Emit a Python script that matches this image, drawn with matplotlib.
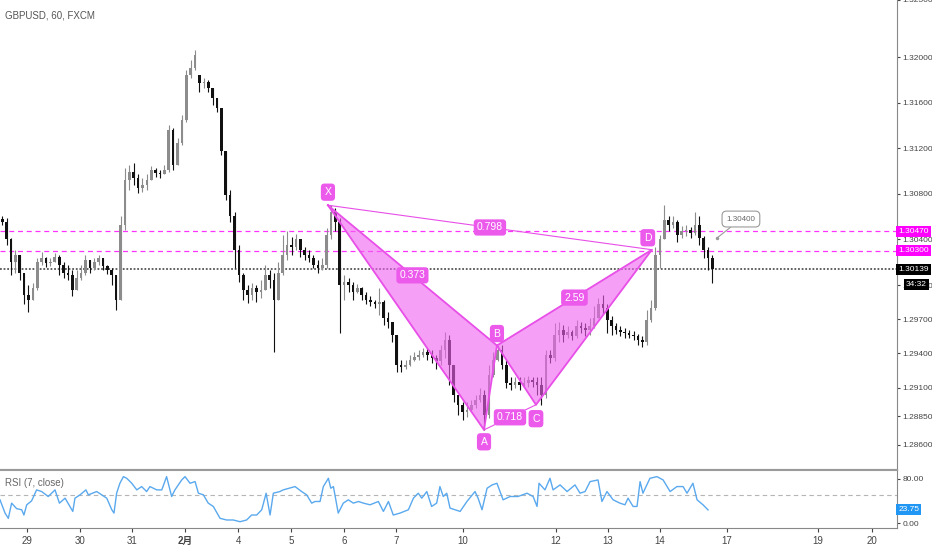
import matplotlib
matplotlib.use('Agg')
import matplotlib.pyplot as plt
from matplotlib.patches import Polygon
from matplotlib.ticker import FormatStrFormatter

plt.rcParams['font.family'] = ['Liberation Sans', 'DejaVu Sans', 'Noto Sans CJK SC']

# ---------------- data (2-hour candles, GBPUSD) ----------------
opens = [1.3058, 1.3055, 1.3040, 1.3020, 1.3026, 1.3011, 1.2991, 1.2987, 1.2997, 1.3020,
         1.3024, 1.3019, 1.3020, 1.3025, 1.3018, 1.3011, 1.3009, 1.2996, 1.3006, 1.3011,
         1.3022, 1.3015, 1.3020, 1.3024, 1.3017, 1.3013, 1.3009, 1.2987, 1.3053, 1.3092,
         1.3099, 1.3094, 1.3085, 1.3088, 1.3092, 1.3101, 1.3098, 1.3097, 1.3101, 1.3136,
         1.3105, 1.3125, 1.3145, 1.3184, 1.3190, 1.3184, 1.3177, 1.3178, 1.3173, 1.3164,
         1.3155, 1.3118, 1.3079, 1.3061, 1.3031, 1.3009, 1.2996, 1.2991, 1.2997, 1.2994,
         1.2996, 1.3009, 1.3004, 1.2987, 1.3011, 1.3026, 1.3035, 1.3033, 1.3040, 1.3031,
         1.3026, 1.3024, 1.3018, 1.3015, 1.3018, 1.3044, 1.3064, 1.3055, 1.3000, 1.3003,
         1.3000, 1.2994, 1.2997, 1.2991, 1.2987, 1.2985, 1.2983, 1.2985, 1.2971, 1.2968,
         1.2956, 1.2930, 1.2928, 1.2930, 1.2934, 1.2937, 1.2939, 1.2941, 1.2939, 1.2936,
         1.2933, 1.2943, 1.2952, 1.2930, 1.2904, 1.2895, 1.2889, 1.2890, 1.2895, 1.2899,
         1.2904, 1.2886, 1.2921, 1.2934, 1.2943, 1.2930, 1.2914, 1.2912, 1.2915, 1.2912,
         1.2914, 1.2917, 1.2915, 1.2912, 1.2904, 1.2939, 1.2936, 1.2956, 1.2961, 1.2956,
         1.2959, 1.2955, 1.2964, 1.2962, 1.2961, 1.2964, 1.2971, 1.2983, 1.2980, 1.2969,
         1.2964, 1.2961, 1.2959, 1.2958, 1.2956, 1.2955, 1.2952, 1.2950, 1.2969, 1.2980,
         1.3026, 1.3040, 1.3057, 1.3053, 1.3055, 1.3044, 1.3047, 1.3048, 1.3046, 1.3053,
         1.3041, 1.3031, 1.3024]

highs = [1.3061, 1.3059, 1.3041, 1.3031, 1.3018, 1.3004, 1.3000, 1.3002, 1.3024, 1.3029,
         1.3025, 1.3024, 1.3028, 1.3026, 1.3020, 1.3018, 1.3013, 1.3013, 1.3018, 1.3026,
         1.3020, 1.3024, 1.3026, 1.3022, 1.3018, 1.3015, 1.3006, 1.3061, 1.3103, 1.3105,
         1.3107, 1.3097, 1.3094, 1.3097, 1.3104, 1.3103, 1.3101, 1.3105, 1.3140, 1.3138,
         1.3129, 1.3149, 1.3189, 1.3197, 1.3206, 1.3184, 1.3182, 1.3180, 1.3173, 1.3162,
         1.3155, 1.3118, 1.3083, 1.3064, 1.3035, 1.3011, 1.3000, 1.3002, 1.3000, 1.3004,
         1.3018, 1.3013, 1.3011, 1.3020, 1.3044, 1.3047, 1.3042, 1.3045, 1.3040, 1.3033,
         1.3031, 1.3026, 1.3022, 1.3024, 1.3050, 1.3070, 1.3068, 1.3059, 1.3009, 1.3006,
         1.3003, 1.3001, 1.2998, 1.2994, 1.2990, 1.2987, 1.2997, 1.2987, 1.2976, 1.2968,
         1.2956, 1.2934, 1.2934, 1.2939, 1.2941, 1.2943, 1.2945, 1.2945, 1.2943, 1.2939,
         1.2947, 1.2959, 1.2956, 1.2930, 1.2904, 1.2897, 1.2897, 1.2899, 1.2904, 1.2910,
         1.2908, 1.2930, 1.2941, 1.2947, 1.2947, 1.2934, 1.2919, 1.2919, 1.2919, 1.2919,
         1.2920, 1.2919, 1.2919, 1.2919, 1.2943, 1.2943, 1.2967, 1.2968, 1.2965, 1.2964,
         1.2961, 1.2969, 1.2968, 1.2967, 1.2971, 1.2982, 1.2989, 1.2991, 1.2983, 1.2973,
         1.2967, 1.2964, 1.2962, 1.2961, 1.2960, 1.2957, 1.2955, 1.2978, 1.2987, 1.3033,
         1.3044, 1.3070, 1.3061, 1.3061, 1.3057, 1.3052, 1.3053, 1.3051, 1.3064, 1.3061,
         1.3043, 1.3033, 1.3026]

lows = [1.3053, 1.3035, 1.3009, 1.3011, 1.3004, 1.2983, 1.2976, 1.2987, 1.2996, 1.3018,
        1.3016, 1.3017, 1.3020, 1.3009, 1.3006, 1.3004, 1.2990, 1.2996, 1.3004, 1.3009,
        1.3011, 1.3013, 1.3018, 1.3013, 1.3010, 1.3000, 1.2978, 1.2987, 1.3048, 1.3083,
        1.3088, 1.3081, 1.3082, 1.3083, 1.3092, 1.3095, 1.3094, 1.3097, 1.3099, 1.3101,
        1.3105, 1.3123, 1.3143, 1.3182, 1.3189, 1.3169, 1.3173, 1.3169, 1.3158, 1.3152,
        1.3114, 1.3075, 1.3055, 1.3015, 1.3003, 1.2987, 1.2984, 1.2987, 1.2985, 1.2989,
        1.3002, 1.2997, 1.2941, 1.2987, 1.3009, 1.3022, 1.3026, 1.3031, 1.3025, 1.3022,
        1.3020, 1.3015, 1.3011, 1.3013, 1.3015, 1.3040, 1.3047, 1.2958, 1.2987, 1.2994,
        1.2987, 1.2993, 1.2987, 1.2983, 1.2982, 1.2980, 1.2974, 1.2965, 1.2962, 1.2950,
        1.2924, 1.2924, 1.2926, 1.2929, 1.2933, 1.2934, 1.2937, 1.2934, 1.2932, 1.2926,
        1.2930, 1.2936, 1.2912, 1.2897, 1.2886, 1.2882, 1.2884, 1.2889, 1.2892, 1.2897,
        1.2873, 1.2883, 1.2919, 1.2933, 1.2926, 1.2910, 1.2908, 1.2910, 1.2908, 1.2911,
        1.2911, 1.2911, 1.2904, 1.2895, 1.2901, 1.2932, 1.2933, 1.2950, 1.2950, 1.2954,
        1.2952, 1.2954, 1.2958, 1.2955, 1.2956, 1.2962, 1.2973, 1.2975, 1.2958, 1.2956,
        1.2957, 1.2955, 1.2954, 1.2954, 1.2952, 1.2947, 1.2946, 1.2947, 1.2968, 1.2978,
        1.3015, 1.3040, 1.3047, 1.3050, 1.3038, 1.3041, 1.3043, 1.3041, 1.3044, 1.3035,
        1.3024, 1.3013, 1.3002]

closes = [1.3055, 1.3040, 1.3020, 1.3026, 1.3011, 1.2991, 1.2987, 1.2997, 1.3020, 1.3024,
          1.3019, 1.3020, 1.3025, 1.3018, 1.3011, 1.3009, 1.2996, 1.3006, 1.3011, 1.3022,
          1.3015, 1.3020, 1.3024, 1.3017, 1.3013, 1.3009, 1.2987, 1.3053, 1.3092, 1.3099,
          1.3094, 1.3085, 1.3088, 1.3092, 1.3101, 1.3098, 1.3097, 1.3101, 1.3136, 1.3105,
          1.3125, 1.3145, 1.3184, 1.3190, 1.3202, 1.3177, 1.3178, 1.3173, 1.3164, 1.3155,
          1.3118, 1.3079, 1.3061, 1.3031, 1.3009, 1.2996, 1.2991, 1.2997, 1.2994, 1.2996,
          1.3009, 1.3004, 1.2987, 1.3011, 1.3026, 1.3035, 1.3033, 1.3040, 1.3031, 1.3026,
          1.3024, 1.3018, 1.3015, 1.3018, 1.3044, 1.3064, 1.3055, 1.3000, 1.3003, 1.3000,
          1.2994, 1.2997, 1.2991, 1.2987, 1.2985, 1.2983, 1.2985, 1.2971, 1.2968, 1.2956,
          1.2930, 1.2928, 1.2930, 1.2934, 1.2937, 1.2939, 1.2941, 1.2939, 1.2936, 1.2933,
          1.2943, 1.2952, 1.2930, 1.2904, 1.2895, 1.2889, 1.2890, 1.2895, 1.2899, 1.2904,
          1.2886, 1.2921, 1.2934, 1.2943, 1.2930, 1.2914, 1.2912, 1.2915, 1.2912, 1.2914,
          1.2917, 1.2915, 1.2912, 1.2904, 1.2939, 1.2936, 1.2956, 1.2961, 1.2956, 1.2959,
          1.2955, 1.2964, 1.2962, 1.2961, 1.2964, 1.2971, 1.2983, 1.2980, 1.2969, 1.2964,
          1.2961, 1.2959, 1.2958, 1.2956, 1.2955, 1.2952, 1.2950, 1.2969, 1.2980, 1.3026,
          1.3040, 1.3057, 1.3053, 1.3055, 1.3044, 1.3047, 1.3048, 1.3046, 1.3053, 1.3041,
          1.3031, 1.3024, 1.3014]

# RSI(7, close) (x in hours since chart start)
rsi_hours = [0, 2.3, 3.8, 5.3, 7.6, 9.9, 10.9, 12.2, 14.4, 16.7,
             19.0, 22.0, 25.1, 27.1, 29.7, 33.2, 34.2, 36.5, 39.2, 40.3,
             44.1, 48.7, 51.0, 52.0, 53.2, 54.7, 56.3, 57.8, 60.1, 62.4,
             64.6, 66.9, 68.4, 71.5, 73.8, 76.0, 78.3, 79.8, 82.9, 84.4,
             86.7, 89.0, 90.5, 92.8, 95.0, 97.3, 100.4, 103.4, 106.4, 109.5,
             112.5, 114.8, 117.1, 119.4, 121.4, 123.2, 124.7, 127.7, 129.2, 134.6,
             137.6, 139.9, 142.2, 143.7, 146.0, 147.5, 149.8, 150.9, 152.1, 154.3,
             156.6, 158.9, 161.2, 163.5, 165.8, 168.8, 172.6, 174.9, 177.2, 179.4,
             182.5, 186.3, 188.6, 190.8, 192.4, 194.7, 196.9, 199.2, 200.7, 202.2,
             203.8, 205.3, 209.9, 213.0, 216.7, 218.1, 219.9, 222.2, 224.5, 226.7,
             229.5, 232.7, 236.3, 240.4, 243.2, 245.0, 245.9, 248.6, 250.9, 252.3,
             255.5, 258.7, 262.3, 264.6, 266.9, 269.2, 272.8, 274.6, 276.9, 279.7,
             282.8, 285.1, 286.5, 288.8, 290.6, 292.0, 293.3, 296.5, 299.7, 302.5,
             305.7, 308.8, 311.6, 313.4, 316.1, 318.0, 320.7, 323.0]
rsi_values = [42, 18, 8.5, 36, 26, 24, 14.5, 33, 40, 60,
              57, 48, 60, 36, 45, 21, 45, 51, 60, 51,
              57, 45, 24, 18, 54, 72, 84, 81, 72, 60,
              66, 57, 66, 60, 60, 84, 48, 60, 78, 84,
              72, 75, 54, 51, 36, 30, 8.5, 5.5, 5.5, 2.4,
              5.5, 14.5, 14.5, 24, 54, 14.5, 54, 57, 60, 66,
              57, 51, 36, 39, 39, 66, 81, 63, 66, 18,
              36, 42, 36, 39, 36, 33, 39, 21, 39, 14.5,
              18, 24, 45, 54, 45, 57, 30, 36, 66, 48,
              54, 27, 21, 39, 57, 45, 24, 63, 69, 72,
              42, 48, 48, 54, 48, 30, 72, 60, 81, 60,
              69, 57, 69, 54, 57, 75, 78, 39, 57, 42,
              36, 33, 45, 30, 30, 75, 54, 81, 84, 78,
              57, 66, 66, 54, 72, 42, 33, 23.75]

# XABCD pattern
pattern_names = ['X', 'A', 'B', 'C', 'D']
pattern_hours = [149.6, 220.8, 226.7, 244.5, 297.4]
pattern_prices = [1.3070, 1.2873, 1.2947, 1.2895, 1.3031]
ratio_xb, ratio_ac, ratio_bd, ratio_xd = '0.373', '0.718', '2.59', '0.798'

level_lines = [1.30470, 1.30300]
last_price = 1.30139
callout_text = '1.30400'
callout_point = (327.1, 1.30413)
callout_box = (338.0, 1.30579)
countdown = '34:32'
rsi_last = 23.75

day_tick_hours = [12.3, 36.5, 60.2, 84.4, 108.6, 132.8, 156.9, 180.7, 211.2,
                  253.6, 277.4, 301.1, 331.7, 373.2, 397.8]
day_tick_labels = ['29', '30', '31', '2月', '4', '5', '6', '7', '10',
                   '12', '13', '14', '17', '19', '20']
price_ticks = [1.2860, 1.2885, 1.2910, 1.2940, 1.2970, 1.3000, 1.3040,
               1.3080, 1.3120, 1.3160, 1.3200, 1.3250]
rsi_ticks = [0, 80]

# ---------------- figure ----------------
W, H = 932, 550
fig = plt.figure(figsize=(W / 100, H / 100), dpi=100)
fig.patch.set_facecolor('white')
ax = fig.add_axes([0, 1 - 470 / H, 897 / W, 470 / H])
rax = fig.add_axes([0, 1 - 528 / H, 897 / W, 58 / H], sharex=ax)

ax.set_xlim(0, 409.2)
ax.set_ylim(1.28378, 1.32500)

UP, DOWN = '#8c8c8c', '#111111'
bar_x = [2 * i + 1 for i in range(len(closes))]
colors = [UP if c >= o else DOWN for o, c in zip(opens, closes)]
bottoms = [min(o, c) for o, c in zip(opens, closes)]
heights = [max(abs(c - o), 0.00005) for o, c in zip(opens, closes)]
wick_lo = [min(l, o, c) for l, o, c in zip(lows, opens, closes)]
wick_hi = [max(h, o, c) for h, o, c in zip(highs, opens, closes)]
ax.vlines(bar_x, wick_lo, wick_hi, colors=colors, lw=0.8, zorder=3)
ax.bar(bar_x, heights, bottom=bottoms, width=1.2, color=colors, linewidth=0, zorder=3)

# horizontal levels
for lv in level_lines:
    ax.axhline(lv, color='#FF33FF', lw=0.9, ls=(0, (4, 3)), zorder=2)
ax.axhline(last_price, color='#555555', lw=1.3, ls=(0, (1, 1)), zorder=2)

# pattern
PINK = '#E84FE8'
pts = list(zip(pattern_hours, pattern_prices))
X, A, B, C, D = pts
ax.add_patch(Polygon([X, A, B], closed=True, fc='#F060F0', alpha=0.6, ec='none', zorder=4))
ax.add_patch(Polygon([B, C, D], closed=True, fc='#F060F0', alpha=0.6, ec='none', zorder=4))
for tri in ([X, A, B, X], [B, C, D, B]):
    ax.plot([p[0] for p in tri], [p[1] for p in tri], color=PINK, lw=1.3, zorder=5)
ax.plot([X[0], D[0]], [X[1], D[1]], color=PINK, lw=0.8, zorder=5)
ax.plot([A[0], C[0]], [A[1], C[1]], color=PINK, lw=0.8, zorder=5)

LBL = '#EC5AEC'
offsets = {'X': (0, 9.4), 'A': (0, -8.6), 'B': (0, 8.6), 'C': (0, -10), 'D': (-3, 8.6)}
for name, p in zip(pattern_names, pts):
    ax.annotate(name, xy=p, xytext=offsets[name], textcoords='offset points',
                ha='center', va='center', fontsize=7.5, color='white', zorder=8,
                bbox=dict(boxstyle='round,pad=0.35', fc=LBL, ec='none'))

def mid(p, q):
    return ((p[0] + q[0]) / 2, (p[1] + q[1]) / 2)

for txt, (p, q) in [(ratio_xb, (X, B)), (ratio_ac, (A, C)), (ratio_bd, (B, D)), (ratio_xd, (X, D))]:
    ax.annotate(txt, xy=mid(p, q), ha='center', va='center', fontsize=7.5, color='white',
                zorder=8, bbox=dict(boxstyle='round,pad=0.3', fc=LBL, ec='none'))

# callout
ax.annotate(callout_text, xy=callout_point, xytext=callout_box, ha='center', va='center',
            fontsize=5.8, color='#666666', zorder=8,
            bbox=dict(boxstyle='round,pad=0.55', fc='white', ec='#9a9a9a', lw=0.8),
            arrowprops=dict(arrowstyle='-', color='#9a9a9a', lw=0.8, shrinkA=0, shrinkB=0))
ax.plot([callout_point[0]], [callout_point[1]], 'o', ms=1.5, color='#9a9a9a', zorder=8)

# main axis styling
AXFS = 6.0
ax.yaxis.tick_right()
ax.set_yticks(price_ticks)
ax.yaxis.set_major_formatter(FormatStrFormatter('%.5f'))
ax.tick_params(axis='y', labelsize=AXFS, colors='#444444', length=2.5, width=0.8, pad=1.5)
ax.tick_params(axis='x', bottom=False, labelbottom=False)
for s in ('left', 'top'):
    ax.spines[s].set_visible(False)
ax.spines['right'].set_color('#888888')
ax.spines['bottom'].set_color('#9a9a9a')
ax.spines['bottom'].set_linewidth(1.5)

def right_box(a, y, text, fc, dx=1.0, dy=0, tc='white'):
    a.annotate(text, xy=(1, y), xycoords=('axes fraction', 'data'), xytext=(dx, dy),
               textcoords='offset points', ha='left', va='center', fontsize=AXFS, color=tc,
               annotation_clip=False, zorder=12,
               bbox=dict(boxstyle='square,pad=0.25', fc=fc, ec='none'))

right_box(ax, level_lines[0], '1.30470', '#FF00FF')
right_box(ax, level_lines[1], '1.30300', '#FF00FF')
right_box(ax, last_price, '1.30139', '#000000')
right_box(ax, last_price, countdown, '#000000', dx=6.5, dy=-10.8)

fig.text(5 / W, 1 - 15 / H, 'GBPUSD, 60, FXCM', fontsize=7, color='#555555', va='center')

# RSI pane
rax.plot(rsi_hours, rsi_values, color='#5AA9EE', lw=1.0, zorder=3)
rax.axhline(50, color='#b5b5b5', lw=0.8, ls=(0, (4, 3)), zorder=2)
rax.set_ylim(-9, 96)
rax.yaxis.tick_right()
rax.set_yticks(rsi_ticks)
rax.yaxis.set_major_formatter(FormatStrFormatter('%.2f'))
rax.tick_params(axis='y', labelsize=AXFS, colors='#444444', length=2.5, width=0.8, pad=1.5)
rax.set_xticks(day_tick_hours)
rax.set_xticklabels(day_tick_labels)
rax.tick_params(axis='x', labelsize=7, colors='#444444', length=3, width=0.8, pad=3)
for lab in rax.get_xticklabels():
    if lab.get_text() == '2月':
        lab.set_fontweight('bold')
rax.spines['left'].set_visible(False)
rax.spines['top'].set_color('#9a9a9a')
rax.spines['top'].set_linewidth(1.5)
rax.spines['bottom'].set_color('#888888')
rax.spines['right'].set_color('#888888')
rax.text(5 / 897, 0.78, 'RSI (7, close)', transform=rax.transAxes, fontsize=7,
         color='#666666', va='center')
right_box(rax, rsi_last, '23.75', '#2196F3', dx=1)

fig.savefig('out.png', dpi=100)
